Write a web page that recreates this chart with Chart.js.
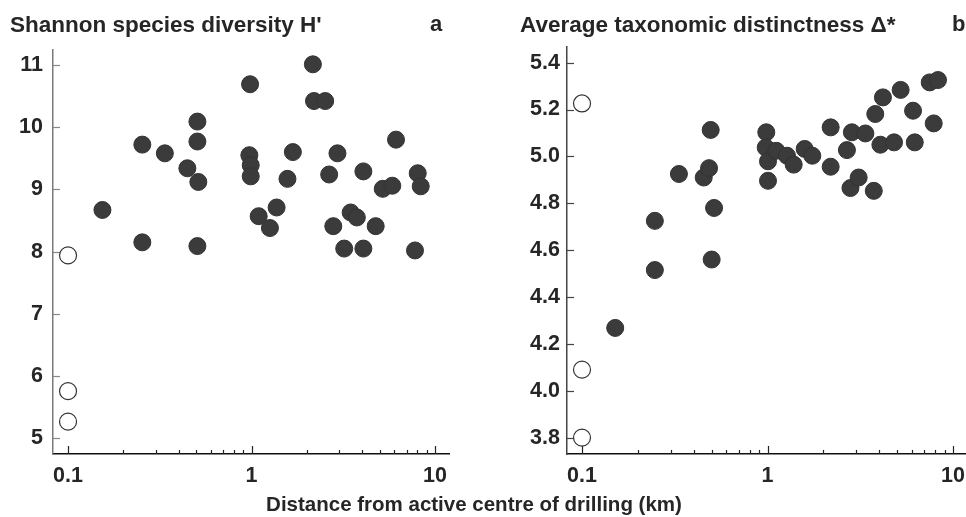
<!DOCTYPE html>
<html><head><meta charset="utf-8">
<script src="https://cdn.jsdelivr.net/npm/chart.js@4"></script>
<style>
html,body{margin:0;padding:0;background:#fff;}
body{width:966px;height:517px;position:relative;overflow:hidden;font-family:'Liberation Sans',Arial,sans-serif;font-weight:bold;color:#262626;}
.t{position:absolute;white-space:nowrap;line-height:1;}
.wrap{position:absolute;top:0;height:517px;}
</style></head><body>
<div class="wrap" style="left:0;width:483px;"><canvas id="c1" width="483" height="517"></canvas></div>
<div class="wrap" style="left:483px;width:500px;"><canvas id="c2" width="500" height="517"></canvas></div>
<div class="t" style="left:10px;top:14px;font-size:22.5px;">Shannon species diversity H'</div>
<div class="t" style="left:430px;top:13px;font-size:22px;">a</div>
<div class="t" style="left:520px;top:14px;font-size:22.5px;">Average taxonomic distinctness Δ*</div>
<div class="t" style="left:952px;top:13px;font-size:22px;">b</div>
<div class="t" style="left:0;width:948px;text-align:center;top:494px;font-size:20.5px;">Distance from active centre of drilling (km)</div>
<script>
// ---- data ----
const xTickValues = [0.1,0.2,0.3,0.4,0.5,0.6,0.7,0.8,0.9,1,2,3,4,5,6,7,8,9,10];
const xTickLabels = [0.1, 1, 10];

// Panel a: Shannon species diversity H'
const shannonX = [0.154,0.254,0.254,0.337,0.447,0.507,0.507,0.513,0.507,0.982,0.973,0.990,0.990,1.094,1.26,1.37,1.57,1.68,2.16,2.19,2.52,2.65,2.94,2.79,3.20,3.47,3.75,4.07,4.07,4.75,5.19,5.85,6.13,7.78,8.05,8.36];
const shannonY = [8.67,9.72,8.15,9.58,9.34,10.09,9.77,9.12,8.09,10.69,9.55,9.39,9.21,8.57,8.38,8.71,9.17,9.60,11.01,10.42,10.42,9.24,9.58,8.41,8.05,8.63,8.55,8.05,9.29,8.41,9.01,9.06,9.80,8.02,9.26,9.05];
const shannonOpenX = [0.1,0.1,0.1];
const shannonOpenY = [7.94,5.76,5.27];
const shannonYTicks = [5,6,7,8,9,10,11];

// Panel b: Average taxonomic distinctness
const deltaX = [0.151,0.247,0.500,0.247,0.333,0.453,0.484,0.494,0.515,0.985,0.978,1.006,1.006,1.115,1.274,1.384,1.586,1.744,2.19,2.19,2.68,2.85,3.37,2.80,3.10,3.74,3.81,4.06,4.19,4.81,5.22,6.09,6.22,7.49,8.30,7.87];
const deltaY = [4.268,4.515,4.56,4.725,4.925,4.91,4.95,5.113,4.78,5.103,5.038,4.979,4.896,5.024,5.003,4.965,5.032,5.003,5.124,4.956,5.027,5.103,5.098,4.865,4.91,4.853,5.181,5.05,5.252,5.06,5.284,5.195,5.06,5.316,5.326,5.141];
const deltaOpenX = [0.1,0.1,0.1];
const deltaOpenY = [5.226,4.09,3.80];
const deltaYTicks = [3.8,4.0,4.2,4.4,4.6,4.8,5.0,5.2,5.4];

const FONT = "'Liberation Sans', Arial, sans-serif";

const inwardTicks = {
  id: 'inwardTicks',
  beforeDatasetsDraw(chart, args, opts) {
    const ctx = chart.ctx, xs = chart.scales.x, ys = chart.scales.y, a = chart.chartArea;
    ctx.save();
    ctx.lineWidth = 1.2;
    ctx.strokeStyle = '#222';
    xs.ticks.forEach(t => {
      const px = Math.round(xs.getPixelForValue(t.value)) + 0.5;
      const len = xTickLabels.includes(t.value) ? 8 : 4;
      ctx.beginPath(); ctx.moveTo(px, a.bottom); ctx.lineTo(px, a.bottom - len); ctx.stroke();
    });
    ctx.strokeStyle = opts.yColor || '#777';
    ys.ticks.forEach(t => {
      const py = Math.round(ys.getPixelForValue(t.value)) + 0.5;
      ctx.beginPath(); ctx.moveTo(a.left, py); ctx.lineTo(a.left + 7, py); ctx.stroke();
    });
    ctx.restore();
  }
};

function pts(xs, ys) { return xs.map((x, i) => ({x: x, y: ys[i]})); }

function makeChart(id, fx, fy, ox, oy, yTicks, cfg) {
  return new Chart(document.getElementById(id), {
    type: 'scatter',
    data: {
      datasets: [
        {data: pts(fx, fy), pointRadius: 8.5, pointBackgroundColor: '#3b3b3b', pointBorderColor: '#333', pointBorderWidth: 1},
        {data: pts(ox, oy), pointRadius: 8.5, pointBackgroundColor: '#fff', pointBorderColor: '#333', pointBorderWidth: 1.2}
      ]
    },
    options: {
      responsive: false, animation: false,
      layout: {padding: {top: cfg.padTop, right: cfg.padRight, left: 0, bottom: 0}},
      plugins: {legend: {display: false}, tooltip: {enabled: false}, inwardTicks: {yColor: cfg.yTickColor}},
      scales: {
        x: {
          type: 'logarithmic', min: cfg.xMin, max: cfg.xMax,
          grid: {display: false, drawTicks: false},
          border: {display: true, color: '#111', width: 1.5},
          afterBuildTicks: s => { s.ticks = xTickValues.map(v => ({value: v})); },
          ticks: {autoSkip: false, maxRotation: 0, minRotation: 0, padding: 9, color: '#262626',
            font: {family: FONT, size: 21.5, weight: 'bold'},
            callback: v => xTickLabels.includes(v) ? String(v) : ''},
          afterFit: s => { s.height = 63; }
        },
        y: {
          type: 'linear', min: cfg.yMin, max: cfg.yMax,
          grid: {display: false, drawTicks: false},
          border: {display: true, color: cfg.yAxisColor, width: 1.5},
          afterBuildTicks: s => { s.ticks = yTicks.map(v => ({value: v})); },
          ticks: {padding: cfg.yPad, color: '#262626', font: {family: FONT, size: 21.5, weight: 'bold'},
            callback: v => v.toFixed(cfg.dec)},
          afterFit: s => { s.width = cfg.yWidth; }
        }
      }
    },
    plugins: [inwardTicks]
  });
}

makeChart('c1', shannonX, shannonY, shannonOpenX, shannonOpenY, shannonYTicks,
  {padTop: 50, padRight: 34, xMin: 0.0828, xMax: 11.92, yMin: 4.75, yMax: 11.24, yWidth: 53, yPad: 10, dec: 0, yAxisColor: '#7a7a7a', yTickColor: '#888'});
makeChart('c2', deltaX, deltaY, deltaOpenX, deltaOpenY, deltaYTicks,
  {padTop: 47, padRight: 17, xMin: 0.083, xMax: 11.75, yMin: 3.73, yMax: 5.467, yWidth: 84, yPad: 7, dec: 1, yAxisColor: '#444', yTickColor: '#444'});
</script>
</body></html>
